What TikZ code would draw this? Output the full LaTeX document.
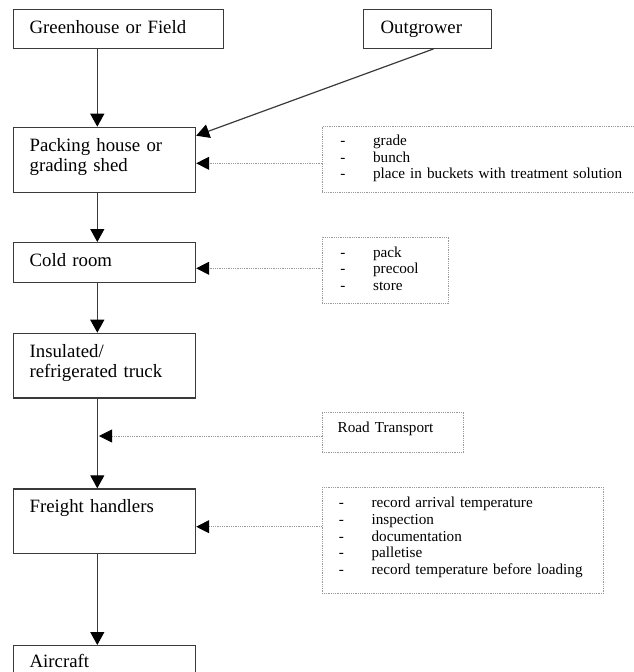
\documentclass[tikz,border=0pt]{standalone}
\usepackage{fontspec}
\setmainfont{Liberation Serif}
\usetikzlibrary{arrows.meta,calc}
\definecolor{flowline}{HTML}{3A3A3A}
\definecolor{flowdot}{HTML}{9A9A9A}
\newcommand{\itm}[1]{\makebox[32.7pt][l]{-}\mbox{#1}}
\tikzset{
  stage/.style={draw=flowline,line width=1.2pt,anchor=north west,align=left,inner xsep=16.3pt,inner ysep=0pt,text height=24pt,font=\fontsize{18.8}{20.3}\selectfont},
  leftcol/.style={stage,text width=149.7pt},
  note/.style={draw=flowdot,densely dotted,line width=0.8pt,anchor=north west,align=left,inner xsep=18pt,inner ysep=0pt,text height=20pt,font=\fontsize{15.2}{16.7}\selectfont},
  ar/.style={-{Triangle[length=13pt,width=14pt,black]},draw=flowline,line width=1.2pt},
  dotar/.style={-{Triangle[length=13pt,width=13pt,black]},draw=flowdot,densely dotted,line width=0.8pt},
}
\begin{document}
\begin{tikzpicture}[x=1pt,y=-1pt]
  \useasboundingbox (0,0) rectangle (633,672);
  \node[stage,text width=177.7pt,text depth=14.7pt] (gh) at (12.7,9) {Greenhouse or Field};
  \node[stage,inner xsep=17pt,text width=94pt,text depth=14.7pt] (out) at (363,9) {Outgrower};
  \node[leftcol,text depth=41pt] (pack) at (12.7,126.7) {Packing house or\\grading shed};
  \node[leftcol,text depth=15.7pt] (cold) at (12.7,242) {Cold room};
  \node[leftcol,text depth=40.6pt] (truck) at (12.7,332.7) {Insulated/\\refrigerated truck};
  \node[leftcol,text depth=40.4pt] (freight) at (12.7,488.3) {Freight handlers};
  \node[leftcol,text height=22pt,text depth=40pt] (air) at (12.7,645) {Aircraft};
  \node[note,text width=290pt,text height=19pt,text depth=47pt] (grading) at (322,126) {\itm{grade}\\\itm{bunch}\\\itm{place in buckets with treatment solution}};
  \node[note,text width=90.3pt,text depth=46pt] (coldtasks) at (322,236.7) {\itm{pack}\\\itm{precool}\\\itm{store}};
  \node[note,inner xsep=15.6pt,text width=110.4pt,text depth=20pt] (road) at (321.7,411.7) {Road Transport};
  \node[note,inner xsep=16.8pt,text width=248pt,text depth=85.4pt] (freighttasks) at (321.7,487.3) {\itm{record arrival temperature}\\\itm{inspection}\\\itm{documentation}\\\itm{palletise}\\\itm{record temperature before loading}};
  \draw[ar] ([xshift=84.6pt]gh.south west) -- ([xshift=84.6pt]pack.north west);
  \draw[ar] ([xshift=6pt]out.south) -- ([yshift=-9pt]pack.north east);
  \draw[ar] ([xshift=84.6pt]pack.south west) -- ([xshift=84.6pt]cold.north west);
  \draw[ar] ([xshift=84.6pt]cold.south west) -- ([xshift=84.6pt]truck.north west);
  \draw[ar] ([xshift=84.6pt]truck.south west) -- ([xshift=84.6pt]freight.north west);
  \draw[ar] ([xshift=84.6pt]freight.south west) -- ([xshift=84.6pt]air.north west);
  \coordinate (g1) at ([yshift=-37.3pt]grading.north west);
  \coordinate (c1) at ([yshift=-31.6pt]coldtasks.north west);
  \coordinate (r1) at ([yshift=-24.3pt]road.north west);
  \coordinate (spine) at ([xshift=86.3pt]truck.south west);
  \coordinate (f1) at ([yshift=-39.4pt]freighttasks.north west);
  \draw[dotar] (g1) -- (g1 -| pack.east);
  \draw[dotar] (c1) -- (c1 -| cold.east);
  \draw[dotar] (r1) -- (r1 -| spine);
  \draw[dotar] (f1) -- (f1 -| freight.east);
\end{tikzpicture}
\end{document}
